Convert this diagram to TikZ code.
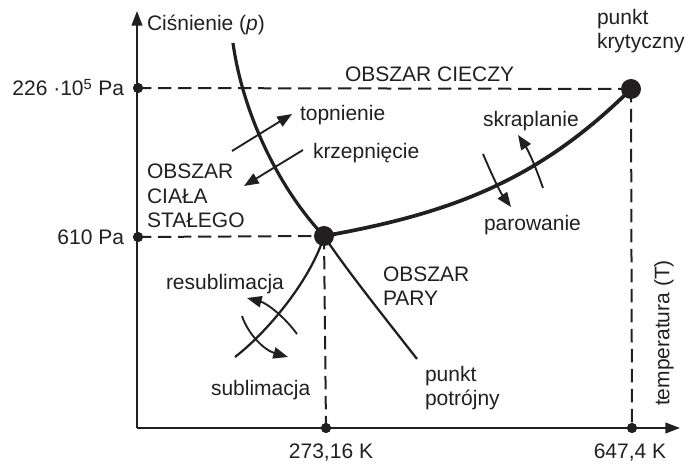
\documentclass[tikz,border=0pt]{standalone}
\usepackage{fontspec}
\setmainfont{Liberation Sans}
\usetikzlibrary{arrows.meta}
\definecolor{ink}{RGB}{35,31,32}
\begin{document}
\begin{tikzpicture}[x=0.75pt,y=-0.75pt,
  every node/.style={font=\fontsize{15.75}{18.4}\selectfont, text=ink, inner sep=0pt, outer sep=0pt},
  lbl/.style={anchor=base west, align=left},
  axis/.style={draw=ink, line width=1.6pt, -{Triangle[length=11pt,width=8pt]}},
  guide/.style={draw=ink, line width=1.5pt, dash pattern=on 10pt off 5pt},
  bigdot/.style={circle, fill=ink, minimum size=15pt},
  smalldot/.style={circle, fill=ink, minimum size=7.5pt},
  meltline/.style={draw=ink, line width=2.4pt},
  vapline/.style={draw=ink, line width=2.8pt},
  thinline/.style={draw=ink, line width=1.7pt},
  flow/.style={draw=ink, line width=1.4pt, -{Triangle[length=11pt,width=8.5pt]}}
]
\useasboundingbox (0,0) rectangle (686,466);

% key points
\coordinate (O) at (137,428);
\coordinate (ytip) at (137,11);
\coordinate (xtip) at (680,428);
\coordinate (mtop) at (233,43);
\coordinate (send) at (235,357);
\coordinate (pend) at (417,359);
\node[smalldot] (p1) at (138,88) {};
\node[smalldot] (p2) at (138,237) {};
\node[smalldot] (t1) at (326,428) {};
\node[smalldot] (t2) at (632,428) {};
\coordinate (cpc) at (631,89);
\coordinate (tpc) at (324,236);

% dashed guides
\draw[guide] (p1.center) -- (cpc);
\draw[guide] (p2.center) -- (tpc);
\draw[guide] (tpc) -- (t1.center);
\draw[guide] (cpc) -- (t2.center);

% axes
\draw[axis] (O) -- (ytip);
\draw[axis] (O) -- (xtip);

% phase curves
\draw[meltline] (mtop) .. controls (243,115) and (280,190) .. (tpc);
\draw[vapline] (tpc) .. controls (454,213) and (540,179) .. (cpc);
\draw[thinline] (tpc) .. controls (312,277) and (270,330) .. (send);
\draw[thinline] (tpc) .. controls (345,268) and (385,318) .. (pend);

\node[bigdot] (cp) at (cpc) {};
\node[bigdot] (tp) at (tpc) {};
\node[smalldot] at (p1) {};
\node[smalldot] at (p2) {};
\node[smalldot] at (t1) {};
\node[smalldot] at (t2) {};

% process arrows
\coordinate (a1s) at (232,151); \coordinate (a1e) at (292,114);
\coordinate (a2s) at (303,150); \coordinate (a2e) at (244,186);
\coordinate (a3s) at (543,188); \coordinate (a3e) at (518,135);
\coordinate (a4s) at (483,154); \coordinate (a4e) at (511,207);
\coordinate (a5s) at (297,334); \coordinate (a5e) at (247,298);
\coordinate (a6s) at (242,316); \coordinate (a6e) at (288,357);
\draw[flow] (a1s) -- (a1e);
\draw[flow] (a2s) -- (a2e);
\draw[flow] (a3s) .. controls (535,165) and (528,150) .. (a3e);
\draw[flow] (a4s) .. controls (492,175) and (500,192) .. (a4e);
\draw[flow] (a5s) .. controls (283,315) and (266,303) .. (a5e);
\draw[flow] (a6s) .. controls (248,334) and (264,350) .. (a6e);

% labels
\node[lbl] (lp) at (147,31) {Ciśnienie (\textit{p})};
\node[anchor=base east] (l226) at (124,96) {226 ·10\textsuperscript{5} Pa};
\node[anchor=base east] (l610) at (124,245) {610 Pa};
\node[lbl] (lliq) at (345,82) {OBSZAR CIECZY};
\node[lbl] (lcrit) at (597,49) {punkt\\krytyczny};
\node[lbl] (ltop) at (300,121) {topnienie};
\node[lbl] (lkrz) at (313,159) {krzepnięcie};
\node[lbl] (lsol) at (147,228) {OBSZAR\\CIAŁA\\STAŁEGO};
\node[lbl] (lskr) at (483,127) {skraplanie};
\node[lbl] (lpar) at (484,231) {parowanie};
\node[lbl] (lres) at (166,290) {resublimacja};
\node[lbl] (lvap) at (383,306) {OBSZAR\\PARY};
\node[lbl] (lsub) at (211,396) {sublimacja};
\node[lbl] (ltrip) at (425,406) {punkt\\potrójny};
\node[anchor=base] (lt1) at (331,459) {273,16 K};
\node[anchor=base] (lt2) at (630,459) {647,4 K};
\node[rotate=90] (ltemp) at (664,333) {temperatura (T)};
\end{tikzpicture}
\end{document}
